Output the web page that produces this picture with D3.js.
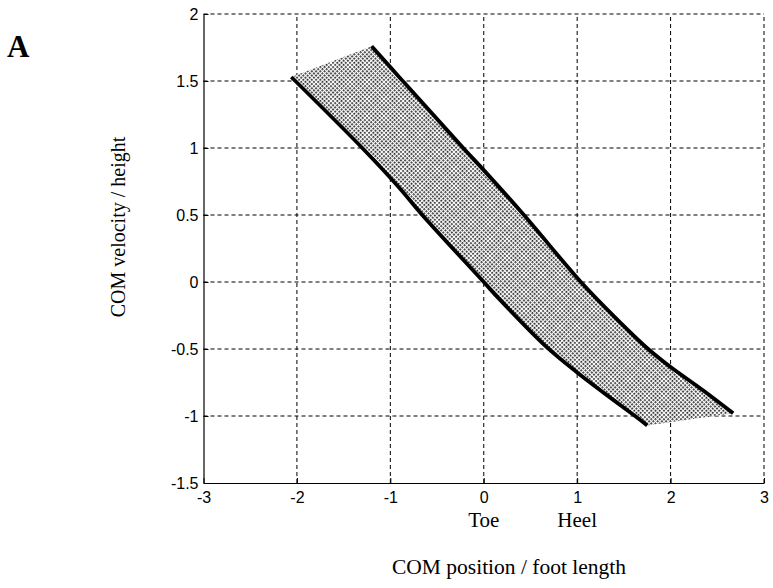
<!DOCTYPE html>
<html>
<head>
<meta charset="utf-8">
<script src="https://cdn.jsdelivr.net/npm/d3@7"></script>
<style>
  html, body { margin: 0; padding: 0; background: #fff; }
  svg { display: block; }
</style>
</head>
<body>
<svg id="chart" width="773" height="588"></svg>
<script>
// ---- data ----
const leftX  = [-2.06, -1.30, -0.90, -0.67, 0.00, 0.17, 0.68, 1.00, 1.30, 1.62, 1.75];
const leftY  = [ 1.53,  1.00,  0.70,  0.51, 0.00, -0.13, -0.49, -0.675, -0.835, -1.00, -1.07];
const rightX = [-1.20, -0.88, -0.55, -0.20, 0.00, 0.43, 1.04, 1.40, 1.76, 2.00, 2.35, 2.67];
const rightY = [ 1.76,  1.51,  1.255, 0.985, 0.835, 0.50, 0.00, -0.26, -0.50, -0.635, -0.81, -0.98];
const xTicks = [-3, -2, -1, 0, 1, 2, 3];
const yTicks = [-1.5, -1, -0.5, 0, 0.5, 1, 1.5, 2];
const footLabels = ["Toe", "Heel"];
const footPos = [0, 1];
const xTitle = "COM position / foot length";
const yTitle = "COM velocity / height";
const panelLabel = "A";

// ---- setup ----
const svg = d3.select("#chart");
const x = d3.scaleLinear().domain([-3, 3]).range([203.5, 764]);
const y = d3.scaleLinear().domain([-1.5, 2]).range([483, 14]);

const defs = svg.append("defs");
const pat = defs.append("pattern")
  .attr("id", "dots").attr("width", 3).attr("height", 3)
  .attr("patternUnits", "userSpaceOnUse")
  .attr("patternTransform", "rotate(45)");
pat.append("rect").attr("width", 3).attr("height", 3).attr("fill", "#fff");
pat.append("rect").attr("width", 1.8).attr("height", 1.8).attr("fill", "#2a2a2a");

// grid
const grid = svg.append("g").attr("stroke", "#000").attr("stroke-width", 1)
  .attr("stroke-dasharray", "4,3").attr("fill", "none");
xTicks.filter(t => t > -3).forEach(t => {
  grid.append("line").attr("x1", x(t)).attr("x2", x(t))
    .attr("y1", y(-1.5)).attr("y2", y(2));
});
yTicks.filter(t => t > -1.5).forEach(t => {
  grid.append("line").attr("y1", y(t)).attr("y2", y(t))
    .attr("x1", x(-3)).attr("x2", x(3));
});

// shaded band
const leftPts = leftX.map((v, i) => [v, leftY[i]]);
const rightPts = rightX.map((v, i) => [v, rightY[i]]);
const line = d3.line().x(d => x(d[0])).y(d => y(d[1])).curve(d3.curveCatmullRom.alpha(0.5));
const bandPath = line(leftPts) + line(rightPts.slice().reverse()).replace(/^M/, "L") + "Z";
svg.append("path").attr("d", bandPath).attr("fill", "url(#dots)").attr("stroke", "none");

// curves
[leftPts, rightPts].forEach(pts => {
  svg.append("path").attr("d", line(pts)).attr("fill", "none")
    .attr("stroke", "#000").attr("stroke-width", 3.8);
});

// axes
const xAxis = d3.axisBottom(x).tickValues(xTicks).tickFormat(d => String(d))
  .tickSizeInner(-5).tickSizeOuter(0).tickPadding(9);
const yAxis = d3.axisLeft(y).tickValues(yTicks).tickFormat(d => String(d))
  .tickSizeInner(-5).tickSizeOuter(0).tickPadding(5);

const gx = svg.append("g").attr("transform", `translate(0,${y(-1.5)})`).call(xAxis);
const gy = svg.append("g").attr("transform", `translate(${x(-3)},0)`).call(yAxis);
[gx, gy].forEach(g => {
  g.attr("font-size", null).attr("font-family", null);
  g.selectAll("path.domain").attr("stroke", "#000").attr("stroke-width", 1.2);
  g.selectAll(".tick line").attr("stroke", "#000");
  g.selectAll(".tick text").attr("fill", "#000")
    .style("font-family", "'Liberation Sans', Arial, sans-serif").style("font-size", "16px");
});

// Toe / Heel
svg.append("g").selectAll("text").data(footLabels).join("text")
  .attr("x", (d, i) => x(footPos[i])).attr("y", 527)
  .attr("text-anchor", "middle")
  .style("font-family", "'Liberation Serif', 'Times New Roman', serif")
  .style("font-size", "21px").text(d => d);

// titles
svg.append("text").attr("x", 509).attr("y", 574).attr("text-anchor", "middle")
  .style("font-family", "'Liberation Serif', 'Times New Roman', serif")
  .style("font-size", "21.5px").text(xTitle);
svg.append("text").attr("transform", "translate(125,227) rotate(-90)")
  .attr("text-anchor", "middle")
  .style("font-family", "'Liberation Serif', 'Times New Roman', serif")
  .style("font-size", "20px").text(yTitle);
svg.append("text").attr("x", 7).attr("y", 57)
  .style("font-family", "'Liberation Serif', 'Times New Roman', serif")
  .style("font-size", "31px").style("font-weight", "bold").text(panelLabel);
</script>
</body>
</html>
